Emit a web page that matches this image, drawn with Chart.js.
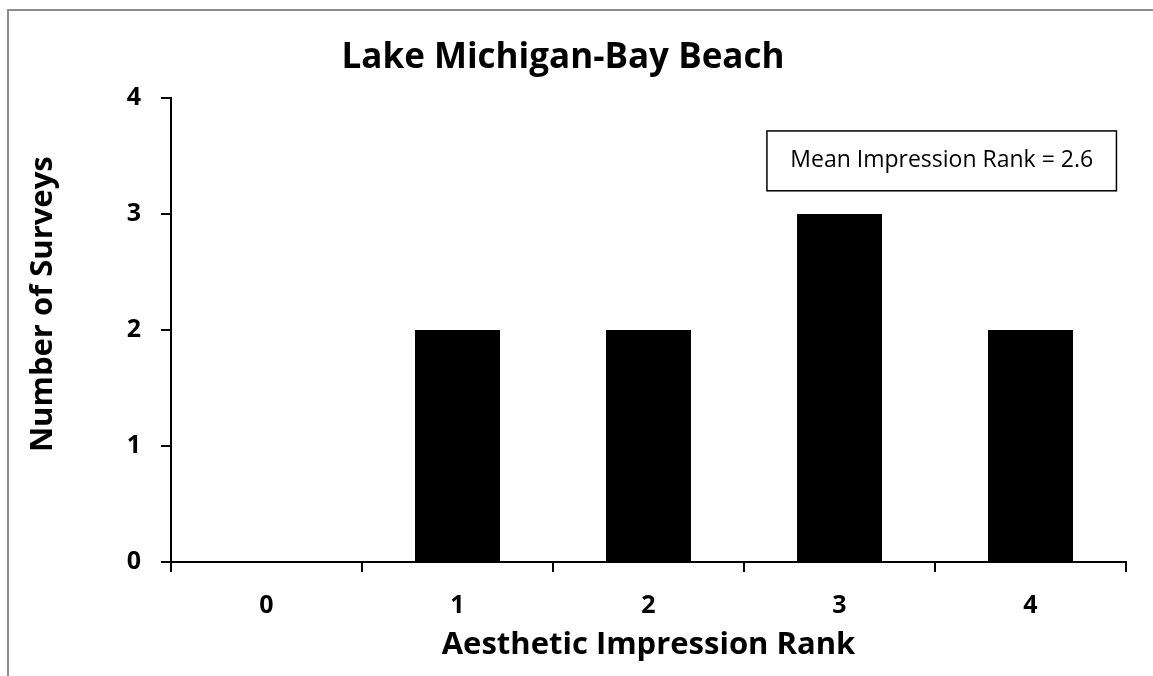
<!DOCTYPE html>
<html>
<head>
<meta charset="utf-8">
<script src="https://cdn.jsdelivr.net/npm/chart.js@4"></script>
<style>
  html, body { margin: 0; padding: 0; background: #fff; }
  #wrap { position: relative; width: 1153px; height: 676px; }
</style>
</head>
<body>
<div id="wrap"><canvas id="c" width="1153" height="676"></canvas></div>
<script>
const categories = ['0', '1', '2', '3', '4'];
const surveyCounts = [0, 2, 2, 3, 2];
const yTicks = [0, 1, 2, 3, 4];
const chartTitle = 'Lake Michigan-Bay Beach';
const xTitle = 'Aesthetic Impression Rank';
const yTitle = 'Number of Surveys';
const noteText = 'Mean Impression Rank = 2.6';

const FONT = '"Open Sans", Lato, sans-serif';

const frame = {
  id: 'frame',
  beforeDraw(chart) {
    const ctx = chart.ctx;
    ctx.save();
    ctx.fillStyle = '#fff';
    ctx.fillRect(0, 0, chart.width, chart.height);
    ctx.strokeStyle = '#8c8c8c';
    ctx.lineWidth = 2;
    ctx.beginPath();
    ctx.moveTo(8, chart.height);
    ctx.lineTo(8, 10);
    ctx.lineTo(chart.width, 10);
    ctx.stroke();
    ctx.restore();
  }
};

const note = {
  id: 'note',
  afterDraw(chart) {
    const a = chart.chartArea;
    const ctx = chart.ctx;
    const w = a.right - a.left, h = a.bottom - a.top;
    const x0 = a.left + 0.624 * w, x1 = a.left + 0.990 * w;
    const y0 = a.top + 0.071 * h, y1 = a.top + 0.200 * h;
    ctx.save();
    ctx.fillStyle = '#fff';
    ctx.fillRect(x0, y0, x1 - x0, y1 - y0);
    ctx.strokeStyle = '#000';
    ctx.lineWidth = 1.5;
    ctx.strokeRect(x0, y0, x1 - x0, y1 - y0);
    ctx.fillStyle = '#000';
    ctx.font = '23px ' + FONT;
    ctx.textAlign = 'center';
    ctx.textBaseline = 'middle';
    ctx.fillText(noteText, (x0 + x1) / 2, (y0 + y1) / 2);
    // vertical axis title (centred on the whole chart height, as in the original)
    ctx.font = 'bold 31px ' + FONT;
    ctx.translate(43, chart.height * 0.45);
    ctx.rotate(-Math.PI / 2);
    ctx.fillText(yTitle, 0, 0);
    ctx.restore();
  }
};

new Chart(document.getElementById('c'), {
  type: 'bar',
  data: {
    labels: categories,
    datasets: [{
      data: surveyCounts,
      backgroundColor: '#000',
      borderWidth: 0,
      categoryPercentage: 1,
      barPercentage: 0.445
    }]
  },
  options: {
    responsive: false,
    animation: false,
    layout: { padding: { left: 0, right: 27, top: 0, bottom: 0 } },
    plugins: {
      legend: { display: false },
      tooltip: { enabled: false },
      title: {
        display: true,
        text: chartTitle,
        color: '#000',
        font: { family: FONT, size: 35, weight: 'bold', lineHeight: 1.2 },
        padding: { top: 37, bottom: 19 }
      }
    },
    scales: {
      x: {
        offset: true,
        grid: { offset: true, drawOnChartArea: false, drawTicks: true, tickLength: 10, color: '#000', lineWidth: 2 },
        border: { display: true, color: '#000', width: 2 },
        ticks: { color: '#000', font: { family: FONT, size: 25, weight: 'bold', lineHeight: 1.2 }, padding: 18.5 },
        title: { display: true, text: xTitle, color: '#000', font: { family: FONT, size: 31, weight: 'bold', lineHeight: 1.2 }, padding: { top: 12, bottom: 12 } },
        afterFit(scale) { scale.height = 114; }
      },
      y: {
        min: 0,
        max: 4,
        afterBuildTicks(scale) { scale.ticks = yTicks.map(v => ({ value: v })); },
        grid: { drawOnChartArea: false, drawTicks: true, tickLength: 10, color: '#000', lineWidth: 2 },
        border: { display: true, color: '#000', width: 2 },
        ticks: { color: '#000', font: { family: FONT, size: 25, weight: 'bold' }, padding: 20 },
        title: { display: false },
        afterFit(scale) { scale.width = 171; }
      }
    }
  },
  plugins: [frame, note]
});
</script>
</body>
</html>
